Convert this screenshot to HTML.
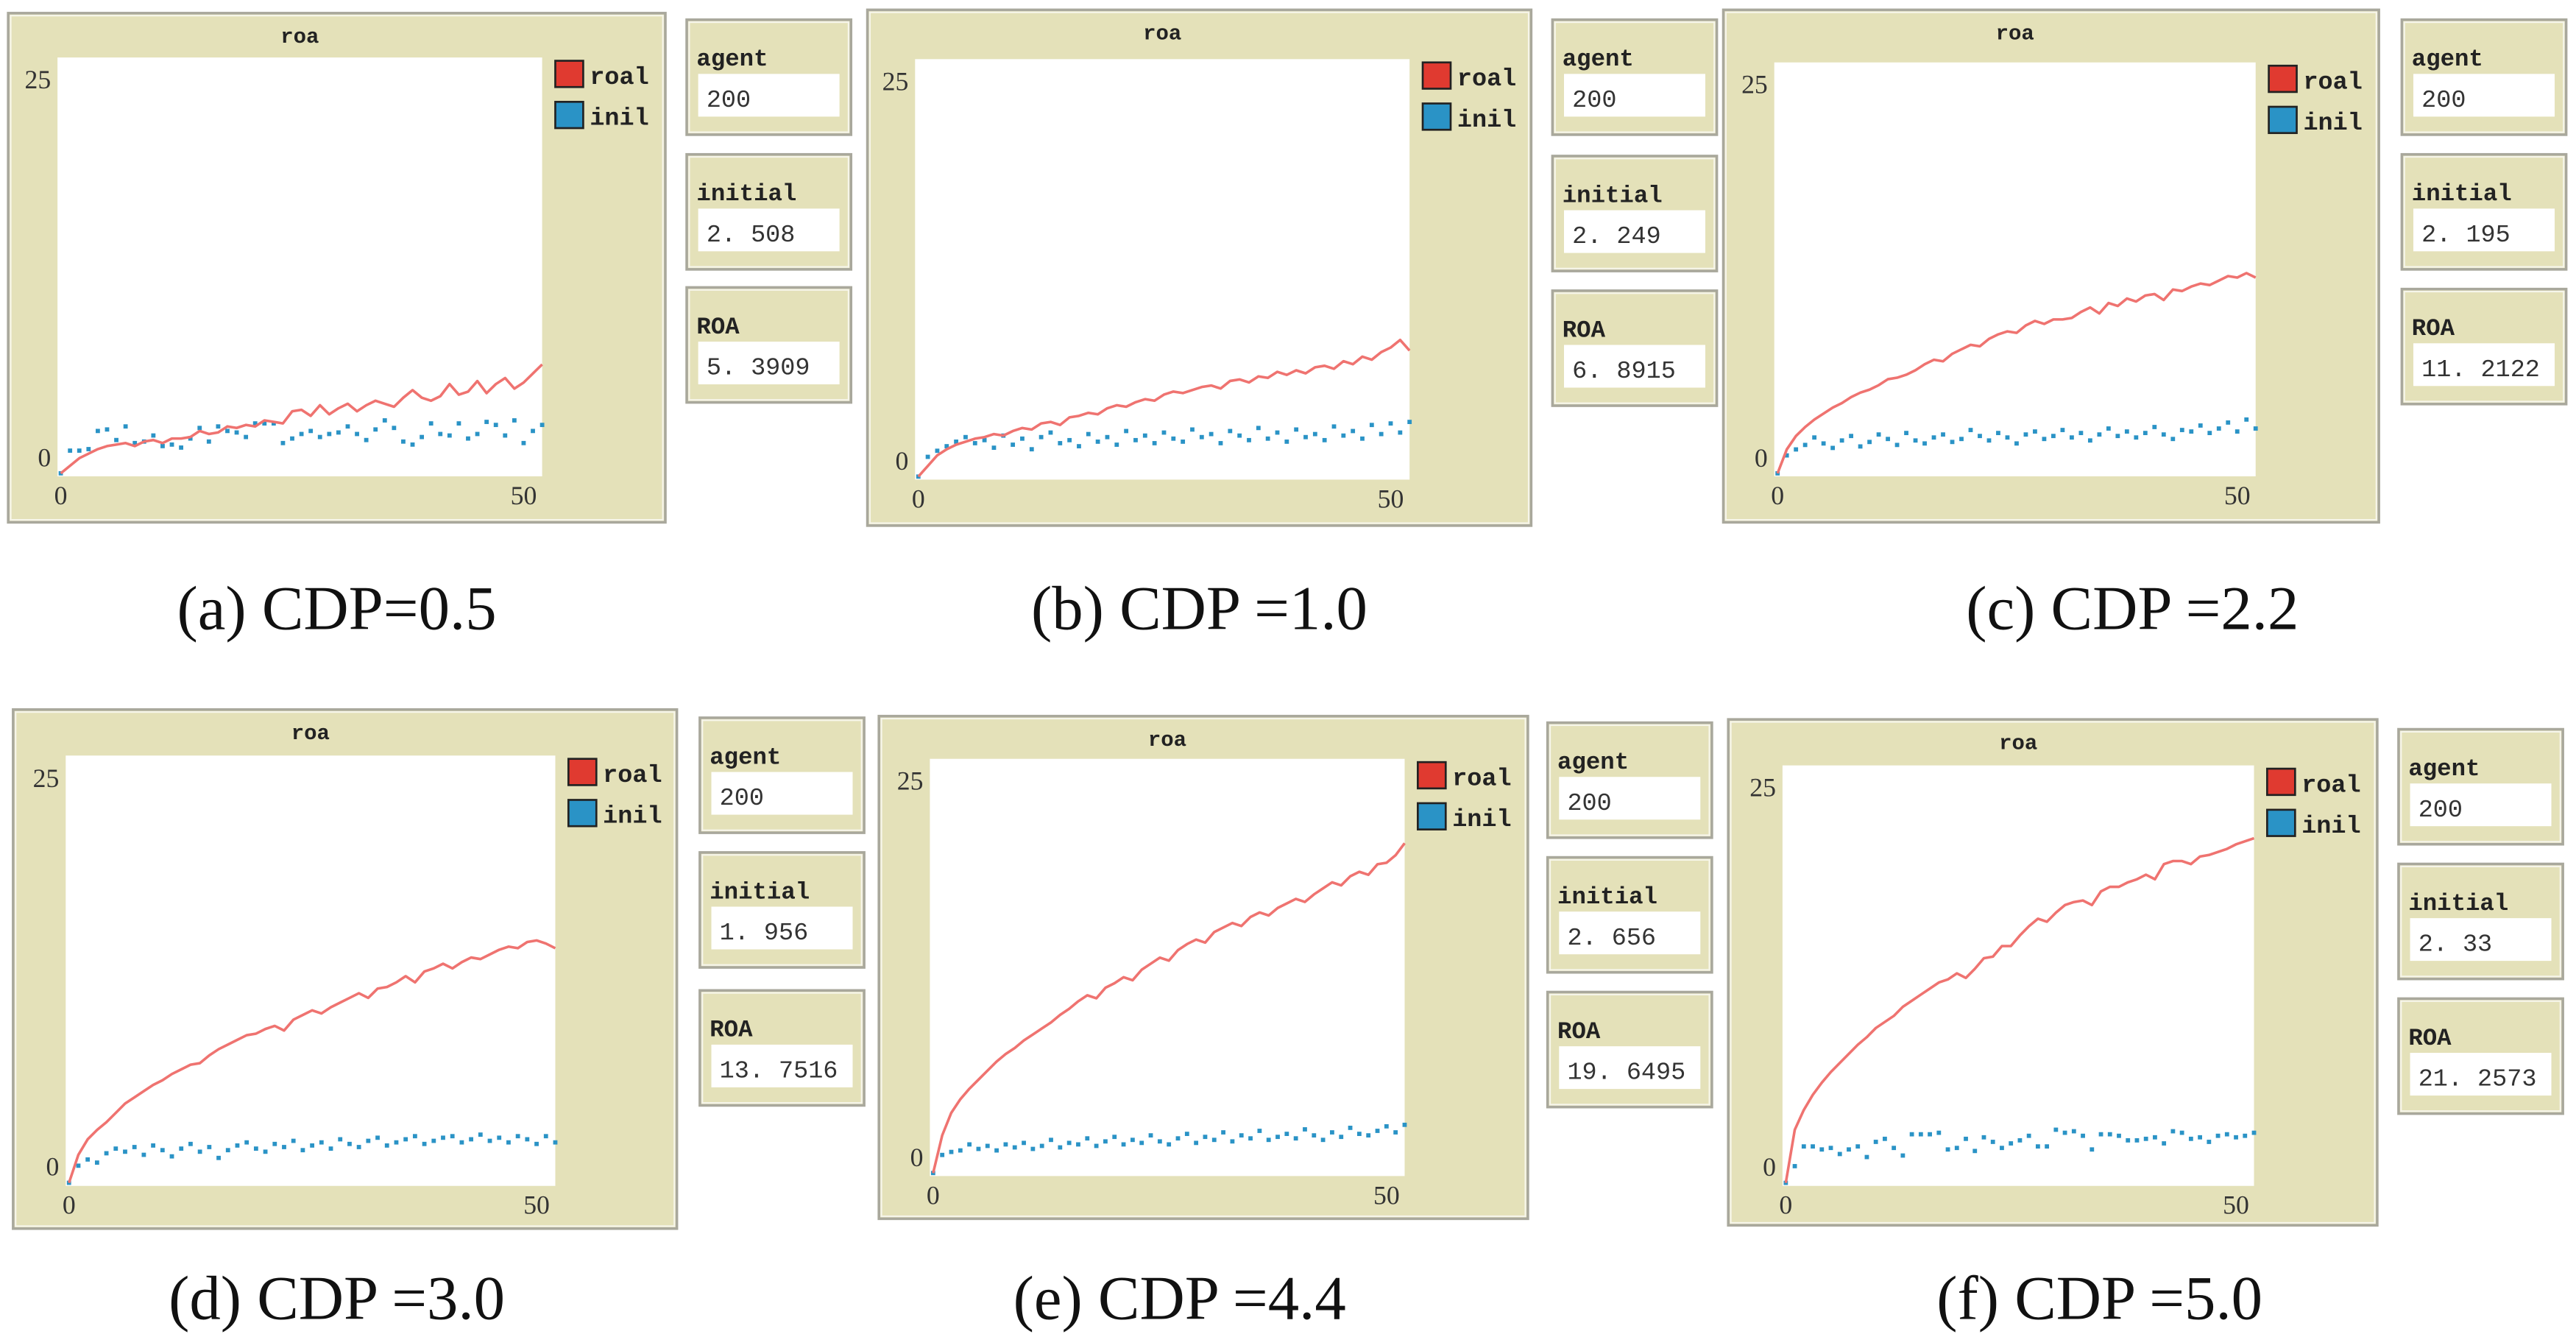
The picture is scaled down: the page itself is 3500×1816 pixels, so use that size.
<!DOCTYPE html>
<html><head><meta charset="utf-8"><style>
html,body{margin:0;padding:0;background:#fff;}
svg{display:block;}
</style></head><body>
<svg id="fig" xmlns="http://www.w3.org/2000/svg" width="3500" height="1816" viewBox="0 0 1568 814" preserveAspectRatio="none"></svg>
<script>
// ---- data ----
const captions = ["(a) CDP=0.5","(b) CDP =1.0","(c) CDP =2.2","(d) CDP =3.0","(e) CDP =4.4","(f) CDP =5.0"];
const agentVals = ["200","200","200","200","200","200"];
const initialVals = ["2. 508","2. 249","2. 195","1. 956","2. 656","2. 33"];
const roaVals = ["5. 3909","6. 8915","11. 2122","13. 7516","19. 6495","21. 2573"];
const yTicks = [0,25];
const xTicks = [0,50];
const roalA = [-1,-0.5,0,0.3,0.6,0.8,0.9,1.0,0.8,1.1,1.2,1.0,1.3,1.3,1.4,1.8,1.6,1.7,2.1,2.0,2.2,2.1,2.5,2.4,2.3,3.1,3.2,2.8,3.5,2.9,3.3,3.6,3.1,3.5,3.8,3.6,3.4,4.0,4.5,4.0,3.8,4.1,4.9,4.2,4.4,5.1,4.3,4.9,5.3,4.6,5.0,5.6,6.2];
const roalB = [-1,-0.3,0.4,0.8,1.1,1.3,1.5,1.6,1.8,1.7,2.0,2.2,2.1,2.5,2.6,2.4,2.9,3.0,3.2,3.1,3.5,3.7,3.6,3.9,4.1,4.0,4.4,4.6,4.5,4.7,4.9,5.0,4.8,5.3,5.4,5.2,5.6,5.5,5.9,5.7,6.0,5.8,6.2,6.3,6.1,6.6,6.4,6.9,6.7,7.2,7.5,8.0,7.3];
const roalC = [-1,0.6,1.5,2.1,2.6,3.0,3.4,3.7,4.1,4.4,4.6,4.9,5.3,5.4,5.6,5.9,6.3,6.6,6.5,7.0,7.3,7.6,7.5,8.0,8.3,8.5,8.4,8.9,9.2,9.0,9.3,9.3,9.4,9.8,10.1,9.7,10.4,10.2,10.7,10.5,10.9,11.0,10.6,11.3,11.2,11.5,11.7,11.6,11.9,12.2,12.1,12.4,12.1];
const roalD = [-1,0.8,1.8,2.4,2.9,3.5,4.1,4.5,4.9,5.3,5.6,6.0,6.3,6.6,6.7,7.2,7.6,7.9,8.2,8.5,8.6,8.9,9.1,8.8,9.5,9.8,10.1,9.9,10.3,10.6,10.9,11.2,10.9,11.5,11.6,11.9,12.3,11.9,12.6,12.8,13.1,12.8,13.2,13.5,13.4,13.7,14.0,14.2,14.1,14.5,14.6,14.4,14.1];
const roalE = [-1,1.5,3.0,3.9,4.6,5.2,5.8,6.4,6.9,7.3,7.8,8.2,8.6,9.0,9.5,9.9,10.4,10.8,10.6,11.3,11.6,12.0,11.8,12.5,12.9,13.3,13.1,13.8,14.2,14.5,14.3,15.0,15.3,15.6,15.4,16.0,16.3,16.1,16.6,16.9,17.2,17.0,17.5,17.9,18.3,18.1,18.7,19.0,18.8,19.5,19.6,20.1,20.9];
const roalF = [-1,2.5,3.8,4.8,5.6,6.3,6.9,7.5,8.1,8.6,9.2,9.6,10.0,10.6,11.0,11.4,11.8,12.2,12.4,12.8,12.5,13.1,13.8,13.9,14.6,14.6,15.3,15.9,16.4,16.2,16.8,17.3,17.5,17.6,17.3,18.2,18.5,18.5,18.8,19.0,19.3,19.0,20.0,20.2,20.2,20.0,20.5,20.6,20.8,21.0,21.3,21.5,21.7];
const inilA = [-1,0.5,0.5,0.6,1.8,1.9,1.2,2.1,1.0,1.1,1.5,0.8,0.9,0.7,1.3,2.0,1.1,2.1,1.8,1.7,1.4,2.3,2.3,2.3,1.0,1.3,1.6,1.8,1.4,1.6,1.7,2.1,1.6,1.2,1.9,2.5,2.0,1.1,0.9,1.4,2.3,1.6,1.5,2.3,1.3,1.6,2.4,2.2,1.5,2.5,1.0,1.8,2.2];
const inilB = [-1,0.3,0.7,1.0,1.3,1.6,1.2,1.4,0.9,1.7,1.1,1.5,0.8,1.6,1.9,1.2,1.4,1.0,1.8,1.3,1.6,1.1,2.0,1.4,1.7,1.2,1.9,1.5,1.3,2.1,1.6,1.8,1.2,2.0,1.7,1.4,2.2,1.5,1.9,1.3,2.1,1.6,1.8,1.4,2.3,1.7,2.0,1.5,2.4,1.8,2.5,1.9,2.6];
const inilC = [-1,0.2,0.6,0.9,1.4,1.0,0.7,1.2,1.5,0.8,1.1,1.6,1.3,0.9,1.7,1.2,1.0,1.4,1.6,1.1,1.3,1.9,1.5,1.2,1.7,1.4,1.0,1.6,1.8,1.3,1.5,1.9,1.4,1.7,1.2,1.6,2.0,1.5,1.8,1.4,1.7,2.1,1.6,1.3,1.9,1.8,2.2,1.7,2.0,2.4,1.8,2.6,2.0];
const inilD = [-1,0.1,0.5,0.3,0.9,1.2,1.0,1.3,0.8,1.4,1.1,0.7,1.2,1.5,1.0,1.3,0.6,1.1,1.4,1.6,1.2,1.0,1.5,1.3,1.7,1.1,1.4,1.6,1.2,1.8,1.5,1.3,1.7,1.9,1.4,1.6,1.8,2.0,1.5,1.7,1.9,2.0,1.6,1.8,2.1,1.7,1.9,1.6,2.0,1.8,1.5,2.0,1.6];
const inilE = [-1,0.2,0.4,0.5,0.9,0.6,0.8,0.5,0.9,0.7,1.0,0.6,0.8,1.2,0.7,1.0,0.9,1.3,0.8,1.1,1.4,0.9,1.2,1.0,1.5,1.1,0.9,1.3,1.6,1.0,1.4,1.2,1.7,1.1,1.5,1.3,1.8,1.2,1.4,1.6,1.3,1.9,1.5,1.2,1.7,1.4,2.0,1.6,1.5,1.8,2.1,1.7,2.2];
const inilF = [-1,0.1,1.4,1.4,1.2,1.3,0.9,1.2,1.4,0.7,1.7,1.9,1.3,0.8,2.2,2.2,2.2,2.3,1.2,1.3,1.9,1.1,2.0,1.7,1.3,1.6,1.8,2.1,1.4,1.4,2.5,2.3,2.4,2.1,1.2,2.2,2.2,2.1,1.8,1.8,1.9,2.0,1.6,2.4,2.3,1.9,2.0,1.7,2.1,2.2,2.0,2.1,2.3];
const roalSeries = [roalA,roalB,roalC,roalD,roalE,roalF];
const inilSeries = [inilA,inilB,inilC,inilD,inilE,inilF];

// ---- layout (thumbnail coords, viewBox 1568x814) ----
const layouts = [
 {f:[5,8,405,318], p:[35,35,330,290], b:[418,[12,94,175]], c:[205,370]},
 {f:[528,6,932,320], p:[557,36,858,292], b:[945,[12,95,177]], c:[730,370]},
 {f:[1049,6,1448,318], p:[1080,38,1373,290], b:[1462,[12,94,176]], c:[1298,370]},
 {f:[8,432,412,748], p:[40,460,338,722], b:[426,[437,519,603]], c:[205,790]},
 {f:[535,436,930,742], p:[566,462,855,716], b:[942,[440,522,604]], c:[718,790]},
 {f:[1052,438,1447,746], p:[1085,466,1372,722], b:[1460,[444,526,608]], c:[1278,790]}
];
const NS = "http://www.w3.org/2000/svg";
const svg = document.getElementById('fig');
function mk(tag, attrs, parent){
  const e = document.createElementNS(NS, tag);
  for (const k in attrs) e.setAttribute(k, attrs[k]);
  (parent||svg).appendChild(e);
  return e;
}
const KH = "#e4e1b9";
const monoFont = '"Liberation Mono", "Noto Sans CJK SC", monospace';
layouts.forEach((L, i) => {
  const g = mk('g', {});
  
  
  const [fx0,fy0,fx1,fy1] = L.f;
  const fr = mk('rect', {x:fx0, y:fy0, width:fx1-fx0, height:fy1-fy0, fill:KH, stroke:"#a9a89c", 'stroke-width':1.6}, g);
  
  
  mk('rect', {x:fx0+1.5, y:fy0+1.5, width:fx1-fx0-3, height:fy1-fy0-3, fill:"none", stroke:"#f6f5ea", 'stroke-width':1}, g);
  const [px0,py0,px1,py1] = L.p;
  const t = mk('text', {x:(px0+px1)/2, y:fy0+18, 'text-anchor':'middle', 'font-family':monoFont, 'font-weight':'bold', 'font-size':13, fill:'#222'}, g);
  t.textContent = 'roa';
  
  
  const pa = mk('rect', {x:px0, y:py0, width:px1-px0, height:py1-py0, fill:'#fff'}, g);
  
  
  const ymin = -1.2, ymax = 26.5, xmax = 52;
  const sx = v => px0 + 2 + v/xmax*(px1-px0-2);
  const sy = v => py1 - (v-ymin)/(ymax-ymin)*(py1-py0);
  yTicks.forEach(v => {
    const tx = mk('text', {x:px0-4, y:sy(v)+5, 'text-anchor':'end', 'font-family':'"Liberation Serif", serif', 'font-size':16, fill:'#333'}, g);
    tx.textContent = v;
    
    
  });
  xTicks.forEach(v => {
    const tx = mk('text', {x:sx(v), y:py1+17, 'text-anchor':'middle', 'font-family':'"Liberation Serif", serif', 'font-size':16, fill:'#333'}, g);
    tx.textContent = v;
    
    
  });
  inilSeries[i].forEach((v, k) => {
    const d = mk('rect', {x:sx(k)-1.3, y:sy(v)-1.3, width:2.6, height:2.6, fill:'#2a93c6'}, g);
    
    
  });
  const pts = roalSeries[i].map((v, k) => sx(k).toFixed(2) + ',' + sy(v).toFixed(2)).join(' ');
  const pl = mk('polyline', {points:pts, fill:'none', stroke:'#ef7370', 'stroke-width':1.6, 'stroke-linejoin':'round'}, g);
  
  
  [['roal','#e03a30',0],['inil','#2a93c6',25]].forEach(([lab,col,dy]) => {
    const sq = mk('rect', {x:px1+8, y:py0+2+dy, width:17, height:16, fill:col, stroke:'#222', 'stroke-width':1.2}, g);
    
    
    const lt = mk('text', {x:px1+29, y:py0+16+dy, 'font-family':monoFont, 'font-weight':'bold', 'font-size':15, fill:'#222'}, g);
    lt.textContent = lab;
    
    
  });
  const bx = L.b[0];
  [['agent',agentVals[i]],['initial',initialVals[i]],['ROA',roaVals[i]]].forEach(([lab,val],j) => {
    const by = L.b[1][j];
    const mb = mk('g', {}, g);
    
    
    mk('rect', {x:bx, y:by, width:100, height:70, fill:KH, stroke:'#a9a89c', 'stroke-width':1.6}, mb);
    mk('rect', {x:bx+1.5, y:by+1.5, width:97, height:67, fill:'none', stroke:'#f6f5ea', 'stroke-width':1}, mb);
    const lt = mk('text', {x:bx+6, y:by+28, 'font-family':monoFont, 'font-weight':'bold', 'font-size':14.5, fill:'#222'}, mb);
    lt.textContent = lab;
    
    
    mk('rect', {x:bx+7, y:by+33, width:86, height:26, fill:'#fff'}, mb);
    const vt = mk('text', {x:bx+12, y:by+53, 'font-family':monoFont, 'font-size':15, fill:'#333'}, mb);
    vt.textContent = val;
    
    
  });
  const cap = mk('text', {x:L.c[0], y:L.c[1]+13, 'text-anchor':'middle', 'font-family':'"Liberation Serif", serif', 'font-size':38, fill:'#111'}, g);
  cap.textContent = captions[i];
  
  
});
</script>
</body></html>
